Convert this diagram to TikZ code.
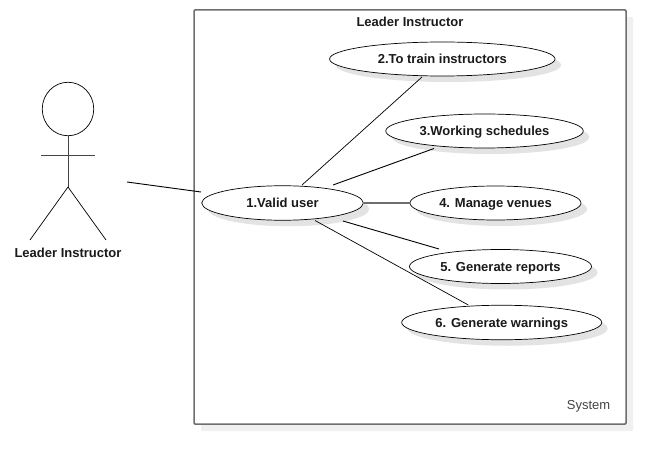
\documentclass[tikz,border=0pt]{standalone}
\usepackage{fontspec}
\setmainfont{Liberation Sans}
\usetikzlibrary{shapes.geometric,shadows}
\definecolor{framegray}{HTML}{6E6E6E}
\definecolor{stickgray}{HTML}{444444}
\definecolor{inktext}{HTML}{1A1A1A}
\tikzset{
  x=1pt,y=-1pt,
  usecase/.style={ellipse,draw=black,line width=0.7pt,fill=white,inner sep=0pt,
    font=\fontsize{13}{14}\selectfont\bfseries,text=inktext,text height=9.3pt,text depth=0pt,
    drop shadow={shadow xshift=6pt,shadow yshift=-6pt,fill=black!11,opacity=1}},
  sysframe/.style={rectangle,rounded corners=1pt,draw=framegray,line width=1.5pt,fill=white,inner sep=0pt,
    drop shadow={shadow xshift=7pt,shadow yshift=-7pt,fill=black!6,opacity=1}},
  assoc/.style={draw=black,line width=0.7pt},
  assocthick/.style={draw=framegray,line width=1.1pt},
  stick/.style={draw=stickgray,line width=0.9pt},
  boldlabel/.style={font=\fontsize{13}{14}\selectfont\bfseries,text=inktext,inner sep=0pt},
  plainlabel/.style={font=\fontsize{13}{14}\selectfont,text=stickgray,inner sep=0pt},
}
\begin{document}
\begin{tikzpicture}
\useasboundingbox (0,0) rectangle (666,465);
\fill[white] (0,0) rectangle (666,465);
% system frame
\node[sysframe,minimum width=432pt,minimum height=414pt] (sys) at (410,217) {};
\node[boldlabel] (systitle) at (410,22) {Leader Instructor};
\node[plainlabel] (syslabel) at (588.5,406) {System};
% use cases
\node[usecase,minimum width=225.5pt,minimum height=34pt] (e2) at (442.3,59) {2.To train instructors};
\node[usecase,minimum width=197.5pt,minimum height=34pt] (e3) at (484.5,131) {3.Working schedules};
\node[usecase,minimum width=161.5pt,minimum height=34.5pt] (e1) at (282.5,203) {1.Valid user};
\node[usecase,minimum width=171pt,minimum height=34pt] (e4) at (495.5,203) {4. Manage venues};
\node[usecase,minimum width=182pt,minimum height=34pt] (e5) at (500.5,266.5) {5. Generate reports};
\node[usecase,minimum width=200pt,minimum height=34.5pt] (e6) at (501.7,322.5) {6. Generate warnings};
% actor
\node[ellipse,draw=black,line width=0.7pt,inner sep=0pt,minimum width=51.5pt,minimum height=53.5pt] (head) at (68,109) {};
\coordinate (hip) at (68,187);
\coordinate (armL) at (41,155);
\coordinate (armR) at (95,155);
\coordinate (footL) at (30,240);
\coordinate (footR) at (106,240);
\draw[stick] (head.south) -- (hip);
\draw[stick] (armL) -- (armR);
\draw[assoc] (hip) -- (footL);
\draw[assoc] (hip) -- (footR);
\node[boldlabel] (actorlabel) at (68,253) {Leader Instructor};
% connector ends
\coordinate (actorEnd) at (127,182);
\coordinate (e1W) at (201,192);
\coordinate (e1to2) at (302,185);
\coordinate (e2end) at (422,77);
\coordinate (e1to3) at (333,185);
\coordinate (e3end) at (434,148.5);
\coordinate (e1to5) at (343,221);
\coordinate (e5end) at (439,249);
\coordinate (e1to6) at (315,220.5);
\coordinate (e6end) at (468.3,305);
% connectors
\draw[assoc,line width=0.9pt] (actorEnd) -- (e1W);
\draw[assoc] (e1to2) -- (e2end);
\draw[assoc,line width=0.9pt] (e1to3) -- (e3end);
\draw[assocthick] (e1.east) -- (e4.west);
\draw[assoc,line width=0.9pt] (e1to5) -- (e5end);
\draw[assoc] (e1to6) -- (e6end);
\end{tikzpicture}
\end{document}
